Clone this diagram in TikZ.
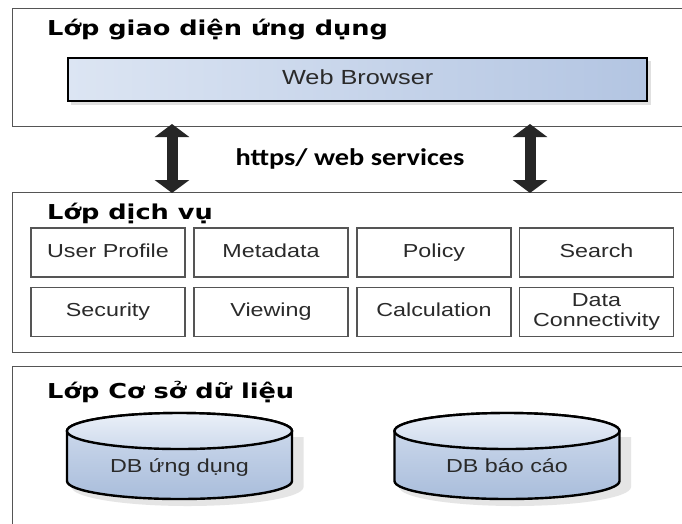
\documentclass[tikz,border=0pt]{standalone}
\usepackage{fontspec}
\usetikzlibrary{arrows.meta,shadows}
\newfontfamily\ttlfont[FakeStretch=1.25]{DejaVu Sans}
\newfontfamily\lblfont[FakeStretch=1.24]{Liberation Sans}
\newfontfamily\calfontx[FakeStretch=1.18]{Carlito}
\definecolor{edge}{HTML}{555555}
\definecolor{txt}{HTML}{2A2A2A}
\definecolor{wbL}{HTML}{DCE5F3}
\definecolor{wbR}{HTML}{B3C5E2}
\definecolor{cylT}{HTML}{DDE6F4}
\definecolor{cylB}{HTML}{A9BDDB}
\definecolor{arr}{HTML}{262626}
\tikzset{
  layer/.style={draw=edge, line width=1.4pt, fill=white, anchor=north west, inner sep=0pt},
  title/.style={font=\ttlfont\bfseries\fontsize{20.5}{24}\selectfont, text=black, anchor=base west, inner sep=0pt},
  cellbase/.style={draw=edge, line width=1.4pt, fill=white, minimum width=154pt, minimum height=49pt, inner sep=0pt,
    font=\lblfont\fontsize{18.8}{19.5}\selectfont, text=txt, align=center},
  cell/.style={cellbase, text height=13.5pt, text depth=4pt},
  bigarrow/.style={line width=11pt, draw=arr, {Triangle[width=34pt,length=13pt]}-{Triangle[width=34pt,length=13pt]}},
  cyllabel/.style={font=\lblfont\fontsize{18.8}{20}\selectfont, text=txt, text height=13.5pt, text depth=4pt},
  shadowfill/.style={fill=black!12, draw=none}
}
\begin{document}
\begin{tikzpicture}[x=1pt,y=-1pt]
\useasboundingbox (0,0) rectangle (682,523);
\clip (0,0) rectangle (682,523);
\fill[white] (0,0) rectangle (682,523);

% ---------- top layer ----------
\node[layer, minimum width=690pt, minimum height=118pt] (L1) at (11.5,8) {};
\node[title] (T1) at (47,35) {Lớp giao diện ứng dụng};
\fill[shadowfill] (71,61) rectangle (651,105);
\node[draw=black, line width=2.4pt, left color=wbL, right color=wbR, minimum width=579pt, minimum height=43pt,
  anchor=north west, inner sep=0pt, font=\lblfont\fontsize{20.4}{22}\selectfont, text=txt,
  text height=14pt, text depth=4pt] (WB) at (67,57) {Web Browser};

% ---------- middle layer ----------
\node[layer, minimum width=690pt, minimum height=160pt] (L2) at (11.5,192) {};
\node[title] (T2) at (47,219) {Lớp dịch vụ};

\node[cell] (UP) at (108,252.5) {User Profile};
\node[cell] (MD) at (271,252.5) {Metadata};
\node[cell] (PO) at (434,252.5) {Policy};
\node[cell] (SE) at (596.5,252.5) {Search};
\node[cell] (SC) at (108,312) {Security};
\node[cell] (VI) at (271,312) {Viewing};
\node[cell] (CA) at (434,312) {Calculation};
\node[cellbase] (DC) at (596.5,312) {Data\\Connectivity};

% ---------- arrows ----------
\coordinate (a1t) at (172,124);
\coordinate (a1b) at (172,193);
\coordinate (a2t) at (530,124);
\coordinate (a2b) at (530,193);
\draw[bigarrow] (a1t) -- (a1b);
\draw[bigarrow] (a2t) -- (a2b);
\node[font=\calfontx\bfseries\fontsize{24}{28}\selectfont, text=black] (HT) at (350,159) {https/ web services};

% ---------- bottom layer ----------
\node[layer, minimum width=690pt, minimum height=180pt] (L3) at (11.5,366) {};
\node[title] (T3) at (47,398) {Lớp Cơ sở dữ liệu};

\foreach \cx/\nm in {179.5/C1, 507/C2}{
  \fill[black!10] (\cx-108,437) -- (\cx-108,487) arc[start angle=180,end angle=0,x radius=116,y radius=19] -- (\cx+124,437) -- cycle;
  \path[draw=black, line width=2.4pt, top color=cylT!80!cylB, bottom color=cylB]
    (\cx-112.5,431) -- (\cx-112.5,481) arc[start angle=180,end angle=0,x radius=112.5,y radius=18]
    -- (\cx+112.5,431) arc[start angle=0,end angle=-180,x radius=112.5,y radius=18] -- cycle;
  \path[draw=black, line width=2.4pt, top color=cylT!60!white, bottom color=cylT!70!cylB]
    (\cx,431) ellipse[x radius=112.5, y radius=18];
}
\node[cyllabel] (D1) at (179.5,468) {DB ứng dụng};
\node[cyllabel] (D2) at (507,468) {DB báo cáo};
\end{tikzpicture}
\end{document}
